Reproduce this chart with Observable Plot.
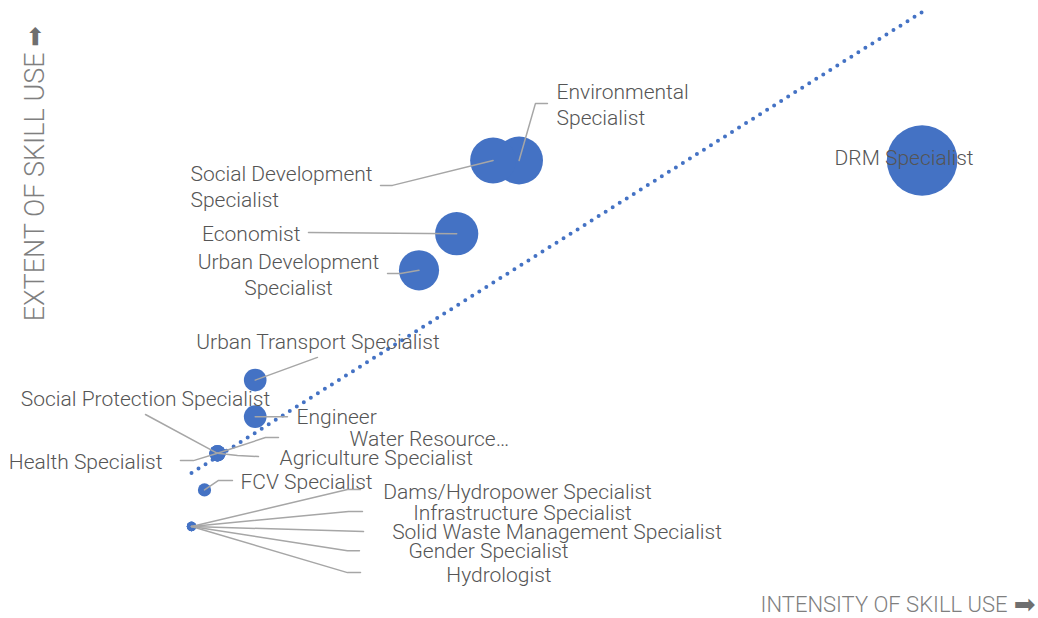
<!DOCTYPE html>
<html>
<head>
<meta charset="utf-8">
<script src="https://cdn.jsdelivr.net/npm/d3@7"></script>
<script src="https://cdn.jsdelivr.net/npm/@observablehq/plot@0.6"></script>
<style>
  html, body { margin: 0; padding: 0; background: #ffffff; }
  #chart svg { display: block; }
</style>
</head>
<body>
<div id="chart"></div>
<script>
// ---- Data ----
const roles = [
  "DRM Specialist",
  "Environmental Specialist",
  "Social Development Specialist",
  "Economist",
  "Urban Development Specialist",
  "Urban Transport Specialist",
  "Engineer",
  "Social Protection Specialist",
  "Health Specialist",
  "Water Resource…",
  "Agriculture Specialist",
  "FCV Specialist",
  "Dams/Hydropower Specialist",
  "Infrastructure Specialist",
  "Solid Waste Management Specialist",
  "Gender Specialist",
  "Hydrologist"
];
// intensity of skill use (x) — also drives bubble size
const intensity = [57.2, 26.2, 24.2, 21.4, 18.5, 5.9, 5.9, 3, 3, 3, 3, 2, 1, 1, 1, 1, 1];
// extent of skill use (y)
const extent = [11, 11, 11, 9, 8, 5, 4, 3, 3, 3, 3, 2, 1, 1, 1, 1, 1];

const xTitle = "INTENSITY OF SKILL USE";
const yTitle = "EXTENT OF SKILL USE";
const arrowGlyph = "➡";

// ---- Label layout (annotation placement, in data units) ----
const labelLayout = [
  {role: "DRM Specialist", anchor: "middle", lx: 55.81, ly: 11.11, path: []},
  {role: "Environmental Specialist", text: "Environmental\nSpecialist", anchor: "start", lx: 29.08, ly: 12.56, path: [[27.46, 12.56], [28.38, 12.56]]},
  {role: "Social Development Specialist", text: "Social Development\nSpecialist", anchor: "start", lx: 0.92, ly: 10.32, path: [[16.46, 10.32], [15.54, 10.32]]},
  {role: "Economist", anchor: "end", lx: 9.38, ly: 9.03, path: [[10.0, 9.03]]},
  {role: "Urban Development Specialist", text: "Urban Development\nSpecialist", anchor: "middle", lx: 8.46, ly: 7.90, path: [[17.08, 7.91], [16.08, 7.91]]},
  {role: "Urban Transport Specialist", anchor: "middle", lx: 10.73, ly: 6.08, path: [[10.69, 5.62]]},
  {role: "Engineer", anchor: "start", lx: 9.08, ly: 4.03, path: [[8.38, 4.0]]},
  {role: "Social Protection Specialist", anchor: "middle", lx: -2.54, ly: 4.52, path: [[-2.54, 4.06]]},
  {role: "Health Specialist", anchor: "end", lx: -1.23, ly: 2.80, path: [[1.15, 2.80], [0.15, 2.80]]},
  {role: "Water Resource…", anchor: "start", lx: 13.15, ly: 3.43, path: [[6.69, 3.43], [7.69, 3.43]]},
  {role: "Agriculture Specialist", anchor: "start", lx: 7.77, ly: 2.91, path: [[4.54, 2.94], [6.15, 2.91]]},
  {role: "FCV Specialist", anchor: "start", lx: 4.77, ly: 2.26, path: [[3.08, 2.26], [4.15, 2.26]]},
  {role: "Dams/Hydropower Specialist", anchor: "middle", lx: 26.08, ly: 1.98, path: [[13.0, 2.01], [14.0, 2.01]]},
  {role: "Infrastructure Specialist", anchor: "middle", lx: 26.46, ly: 1.41, path: [[13.08, 1.41], [14.15, 1.41]]},
  {role: "Solid Waste Management Specialist", anchor: "middle", lx: 29.12, ly: 0.89, path: [[14.23, 0.86]]},
  {role: "Gender Specialist", anchor: "middle", lx: 23.85, ly: 0.37, path: [[13.0, 0.34], [13.92, 0.34]]},
  {role: "Hydrologist", anchor: "middle", lx: 24.65, ly: -0.28, path: [[13.0, -0.26], [14.0, -0.26]]}
];

// ---- Build tables ----
const points = roles.map((role, i) => ({role, intensity: intensity[i], extent: extent[i]}));
const byRole = new Map(points.map(d => [d.role, d]));
const leaders = labelLayout.flatMap(l => {
  if (!l.path.length) return [];
  const p = byRole.get(l.role);
  return [[p.intensity, p.extent], ...l.path].map(([x, y]) => ({role: l.role, x, y}));
});

const labelFont = {fontFamily: "Roboto", fontWeight: 300, fontSize: 21, fill: "#555555"};
const titleFont = {fontFamily: "Roboto", fontWeight: 300, fill: "#7F7F7F"};
const arrowFont = {fontFamily: "DejaVu Sans", fill: "#6F6F6F"};

const chart = Plot.plot({
  width: 1038,
  height: 618,
  marginTop: 0, marginRight: 0, marginBottom: 0, marginLeft: 0,
  style: {background: "#ffffff", fontFamily: "Roboto"},
  x: {domain: [0, 65], range: [178, 1023], axis: null},
  y: {domain: [0, 15], range: [562.6, 13.6], axis: null},
  r: {type: "sqrt", domain: [0, 57.2], range: [0, 35.3]},
  marks: [
    Plot.dot(points, {x: "intensity", y: "extent", r: "intensity", fill: "#4472C4"}),
    Plot.linearRegressionY(points, {
      x: "intensity", y: "extent", ci: 0,
      stroke: "#4472C4", strokeWidth: 4, strokeDasharray: "0 8.3", strokeLinecap: "round"
    }),
    Plot.line(leaders, {x: "x", y: "y", z: "role", stroke: "#A6A6A6", strokeWidth: 1.5}),
    ...["start", "middle", "end"].map(a =>
      Plot.text(labelLayout.filter(l => l.anchor === a), {
        x: "lx", y: "ly", text: d => d.text ?? d.role,
        textAnchor: a, lineAnchor: "middle", lineHeight: 1.24, ...labelFont
      })
    ),
    // x-axis title (bottom right) with heavy arrow
    Plot.text([xTitle], {
      frameAnchor: "bottom-right", text: d => d, dx: -31, dy: -7,
      textAnchor: "end", lineAnchor: "bottom", fontSize: 22, ...titleFont
    }),
    Plot.text([arrowGlyph], {
      frameAnchor: "bottom-right", text: d => d, dx: -3, dy: -14,
      textAnchor: "end", lineAnchor: "middle", fontSize: 26, ...arrowFont
    }),
    // y-axis title (rotated, left) with heavy arrow
    Plot.text([yTitle], {
      frameAnchor: "top-left", text: d => d, rotate: -90, dx: 35, dy: 52,
      textAnchor: "end", lineAnchor: "middle", fontSize: 27, ...titleFont
    }),
    Plot.text([arrowGlyph], {
      frameAnchor: "top-left", text: d => d, rotate: -90, dx: 35, dy: 26,
      textAnchor: "end", lineAnchor: "middle", fontSize: 24, ...arrowFont
    })
  ]
});
document.getElementById("chart").appendChild(chart);
</script>
</body>
</html>
